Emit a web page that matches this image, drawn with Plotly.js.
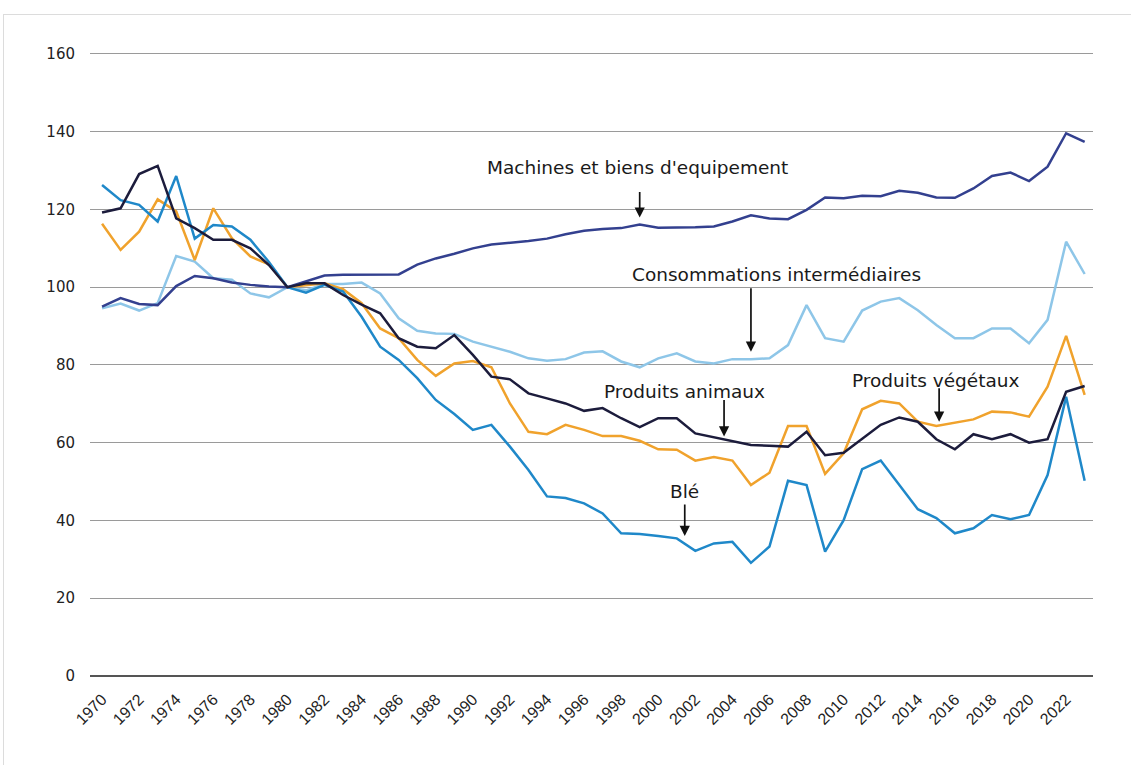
<!DOCTYPE html>
<html>
<head>
<meta charset="utf-8">
<script src="https://cdn.plot.ly/plotly-3.0.1.min.js"></script>
<style>
  html, body { margin: 0; padding: 0; background: #ffffff; }
  #chart { width: 1131px; height: 765px; position: relative; }
  #frame { position: absolute; left: 3px; top: 14px; width: 1140px; height: 800px;
           border: 1px solid #dcdcdc; pointer-events: none; }
</style>
</head>
<body>
<div id="chart"></div>
<div id="frame"></div>
<script>
const years = [];
for (let y = 1970; y <= 2023; y++) years.push(y);

const machines = [95.0, 97.2, 95.7, 95.4, 100.3, 102.9, 102.3, 101.2, 100.6, 100.2,
  100.0, 101.5, 103.0, 103.2, 103.2, 103.2, 103.3, 105.8, 107.4, 108.6,
  110.0, 111.0, 111.4, 111.9, 112.5, 113.6, 114.5, 115.0, 115.2, 116.1,
  115.3, 115.3, 115.4, 115.6, 116.9, 118.5, 117.7, 117.5, 119.9, 123.1,
  122.9, 123.5, 123.4, 124.8, 124.3, 123.1, 123.0, 125.4, 128.6, 129.5,
  127.3, 131.0, 139.6, 137.4];

const consommations = [94.6, 95.8, 94.0, 95.9, 108.0, 106.6, 102.3, 101.9, 98.4, 97.4,
  100.0, 99.2, 100.8, 100.8, 101.2, 98.4, 92.0, 88.8, 88.1, 88.0,
  86.0, 84.7, 83.4, 81.7, 81.1, 81.5, 83.2, 83.5, 80.9, 79.4,
  81.7, 83.0, 80.9, 80.4, 81.5, 81.5, 81.7, 85.1, 95.4, 86.9,
  86.0, 94.0, 96.3, 97.2, 94.1, 90.3, 86.9, 86.9, 89.4, 89.4,
  85.6, 91.6, 111.7, 103.4];

const animaux = [119.2, 120.3, 129.1, 131.2, 117.7, 115.2, 112.2, 112.2, 110.0, 105.7,
  100.0, 101.0, 101.0, 98.0, 95.5, 93.3, 86.9, 84.7, 84.3, 87.7,
  82.6, 77.0, 76.3, 72.7, 71.4, 70.1, 68.2, 68.9, 66.3, 64.0,
  66.3, 66.3, 62.4, 61.4, 60.5, 59.4, 59.2, 59.0, 62.8, 56.8,
  57.4, 61.1, 64.6, 66.5, 65.4, 60.9, 58.3, 62.2, 60.9, 62.2,
  60.0, 60.9, 73.1, 74.6];

const vegetaux = [116.3, 109.6, 114.3, 122.6, 119.5, 107.0, 120.3, 112.6, 107.9, 105.9,
  100.0, 100.5, 101.0, 99.5, 95.9, 89.4, 86.9, 81.3, 77.2, 80.4,
  81.0, 79.4, 70.1, 62.8, 62.2, 64.6, 63.3, 61.7, 61.7, 60.5,
  58.3, 58.2, 55.4, 56.3, 55.4, 49.1, 52.3, 64.3, 64.3, 52.0,
  57.3, 68.6, 70.8, 70.1, 65.4, 64.3, 65.2, 66.0, 68.0, 67.8,
  66.7, 74.4, 87.5, 72.3];

const ble = [126.3, 122.4, 121.2, 116.9, 128.6, 112.5, 116.0, 115.6, 112.2, 106.5,
  100.0, 98.6, 100.6, 98.9, 92.4, 84.7, 81.3, 76.6, 71.0, 67.4,
  63.3, 64.6, 59.0, 53.0, 46.2, 45.8, 44.4, 41.8, 36.7, 36.5,
  36.0, 35.4, 32.2, 34.1, 34.5, 29.1, 33.3, 50.2, 49.1, 32.0,
  40.1, 53.2, 55.4, 49.1, 42.9, 40.6, 36.7, 38.0, 41.4, 40.3,
  41.4, 51.7, 71.8, 50.2];

const tickYears = [];
for (let y = 1970; y <= 2022; y += 2) tickYears.push(y);

const seriesNames = ["Machines et biens d'equipement", "Consommations intermédiaires",
  "Produits animaux", "Produits végétaux", "Blé"];
const seriesColors = ["#33408f", "#8ec6e8", "#1c1c3c", "#f0a22c", "#1f88c9"];
const seriesValues = [machines, consommations, animaux, vegetaux, ble];

const labelTexts = ["Machines et biens d'equipement", "Consommations intermédiaires",
  "Produits animaux", "Produits végétaux", "Blé"];
const labelX = [1998.9, 2006.4, 2001.4, 2015.0, 2001.4];
const labelY = [130.9, 103.2, 73.1, 76.0, 47.4];
const arrowX = [1999.0, 2005.0, 2003.55, 2015.15, 2001.43];
const arrowTip = [117.9, 83.4, 61.6, 65.4, 36.0];
const arrowLen = [27, 65, 38, 35, 33];

const traces = seriesValues.map((vals, i) => ({
  type: 'scatter', mode: 'lines', x: years, y: vals, name: seriesNames[i],
  line: { color: seriesColors[i], width: 2.5 }, hoverinfo: 'x+y+name'
}));
const order = [1, 3, 4, 0, 2];
const data = order.map(i => traces[i]);

const annotations = [];
labelTexts.forEach((t, i) => {
  annotations.push({ x: labelX[i], y: labelY[i], xref: 'x', yref: 'y', text: t,
    showarrow: false, font: { family: 'DejaVu Sans, sans-serif', size: 18.5, color: '#1a1a1a' },
    xanchor: 'center', yanchor: 'middle' });
  annotations.push({ x: arrowX[i], y: arrowTip[i], xref: 'x', yref: 'y', text: '',
    showarrow: true, ax: 0, ay: -arrowLen[i], arrowhead: 2, arrowsize: 1.2,
    arrowwidth: 1.7, arrowcolor: '#111111', standoff: 0, startstandoff: 0 });
});

const layout = {
  width: 1131, height: 765,
  margin: { l: 90, r: 38, t: 52, b: 89 },
  paper_bgcolor: '#ffffff', plot_bgcolor: '#ffffff',
  showlegend: false,
  xaxis: {
    range: [1969.35, 2023.45], tickmode: 'array', tickvals: tickYears,
    ticktext: tickYears.map(String), tickangle: -45,
    showgrid: false, zeroline: false, showline: false, ticks: '', ticklabelstandoff: 10,
    tickfont: { family: 'Liberation Sans, Arial, sans-serif', size: 16, color: '#222' }
  },
  yaxis: {
    range: [0, 160.5], tickvals: [0, 20, 40, 60, 80, 100, 120, 140, 160],
    showgrid: true, gridcolor: '#9a9a9a', gridwidth: 1,
    zeroline: true, zerolinecolor: '#555555', zerolinewidth: 1.3,
    showline: false, ticks: '', ticklabelstandoff: 14,
    tickfont: { family: 'DejaVu Sans, sans-serif', size: 15, color: '#222' }
  },
  annotations: annotations
};

Plotly.newPlot('chart', data, layout, { displayModeBar: false, staticPlot: true });
</script>
</body>
</html>
